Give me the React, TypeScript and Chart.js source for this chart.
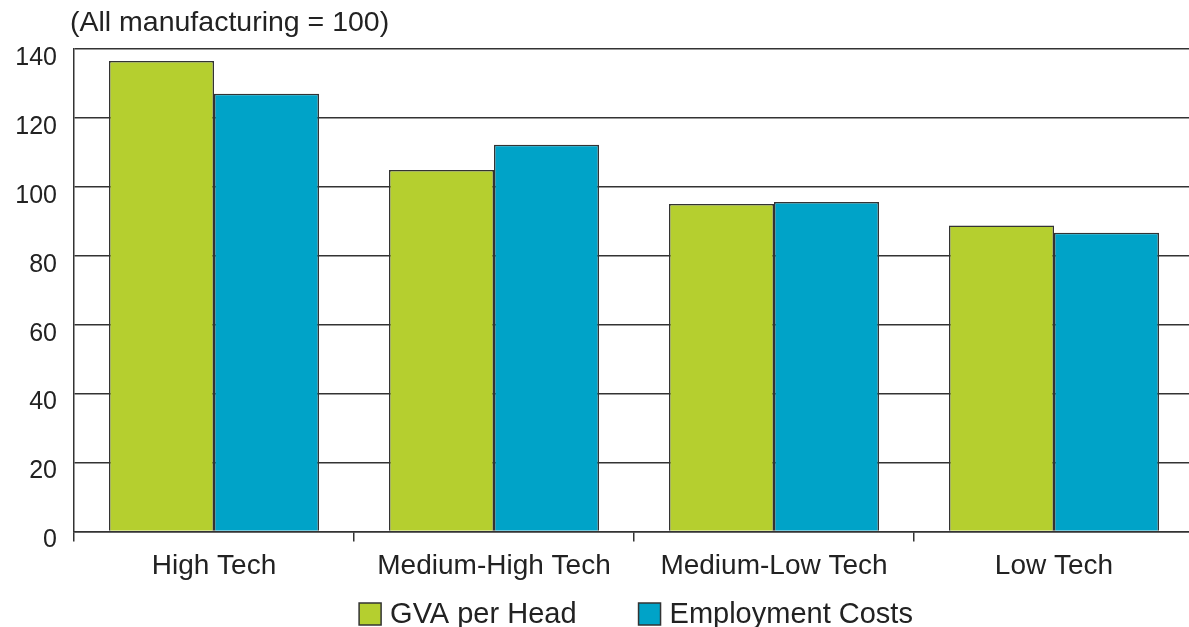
import React, { useEffect, useRef } from "react";
import { Chart, registerables } from "chart.js";

Chart.register(...registerables);

const categories = ["High Tech", "Medium-High Tech", "Medium-Low Tech", "Low Tech"];
const gvaPerHead = [136.5, 104.9, 95.0, 88.8];
const employmentCosts = [127.0, 112.2, 95.6, 86.7];
const seriesNames = ["GVA per Head", "Employment Costs"];
const yTicks = [0, 20, 40, 60, 80, 100, 120, 140];
const subtitle = "(All manufacturing = 100)";

const GREEN = "#B5CF2F";
const BLUE = "#00A3C8";
const DARK = "#333333";
const TEXT = "#222222";
const FONT = "'Liberation Sans', Arial, sans-serif";

const overlayPlugin = {
  id: "overlay",
  afterDraw(chart: any) {
    const ctx = chart.ctx;
    const ca = chart.chartArea;
    ctx.save();
    ctx.fillStyle = TEXT;
    ctx.font = `28.5px ${FONT}`;
    ctx.textBaseline = "middle";
    ctx.textAlign = "left";
    ctx.fillText(subtitle, ca.left - 4, 23);

    // legend
    ctx.font = `29px ${FONT}`;
    const colors = [GREEN, BLUE];
    const box = 22;
    const gap = 9;
    const itemGap = 62;
    const widths = seriesNames.map((n) => box + gap + ctx.measureText(n).width);
    const total = widths[0] + itemGap + widths[1];
    let x = (ca.left + ca.right) / 2 + 2 - total / 2;
    const cy = 614;
    seriesNames.forEach((n, i) => {
      ctx.fillStyle = colors[i];
      ctx.fillRect(x, cy - box / 2, box, box);
      ctx.strokeStyle = DARK;
      ctx.lineWidth = 1.5;
      ctx.strokeRect(x, cy - box / 2, box, box);
      ctx.fillStyle = TEXT;
      ctx.fillText(n, x + box + gap, cy + 1);
      x += widths[i] + itemGap;
    });
    ctx.restore();
  },
};

export default function App() {
  const ref = useRef<HTMLCanvasElement>(null);
  useEffect(() => {
    const canvas = ref.current!;
    const chart = new Chart(canvas, {
      type: "bar",
      data: {
        labels: categories,
        datasets: [
          {
            label: seriesNames[0],
            data: gvaPerHead,
            backgroundColor: GREEN,
            borderColor: DARK,
            borderWidth: 1.5,
            categoryPercentage: 0.75,
            barPercentage: 1,
          },
          {
            label: seriesNames[1],
            data: employmentCosts,
            backgroundColor: BLUE,
            borderColor: DARK,
            borderWidth: 1.5,
            categoryPercentage: 0.75,
            barPercentage: 1,
          },
        ],
      },
      options: {
        responsive: false,
        animation: false,
        devicePixelRatio: 1,
        layout: { padding: { top: 49, right: 6, bottom: 36, left: 0 } },
        plugins: {
          legend: { display: false },
          tooltip: { enabled: false },
          title: { display: false },
        },
        scales: {
          x: {
            grid: {
              offset: true,
              drawOnChartArea: false,
              drawTicks: true,
              tickLength: 10,
              color: DARK,
              lineWidth: 1.5,
            },
            border: { display: true, color: DARK, width: 1.5 },
            ticks: {
              color: TEXT,
              font: { family: FONT, size: 28 },
              padding: 8,
              maxRotation: 0,
            },
          },
          y: {
            min: 0,
            max: 140,
            afterBuildTicks: (scale: any) => {
              scale.ticks = yTicks.map((v) => ({ value: v }));
            },
            afterFit: (scale: any) => {
              scale.width = 74;
            },
            grid: {
              drawTicks: false,
              color: DARK,
              lineWidth: 1.5,
            },
            border: { display: true, color: DARK, width: 1.5 },
            ticks: {
              color: TEXT,
              font: { family: FONT, size: 25 },
              padding: 17,
              labelOffset: 9,
            },
          },
        },
      },
      plugins: [overlayPlugin],
    } as any);
    return () => chart.destroy();
  }, []);
  return (
    <div
      style={{
        position: "fixed",
        left: 0,
        top: 0,
        width: 1189,
        height: 627,
        overflow: "hidden",
        background: "#fff",
      }}
    >
      <canvas ref={ref} width={1200} height={627} style={{ display: "block", width: 1200, height: 627 }} />
    </div>
  );
}
